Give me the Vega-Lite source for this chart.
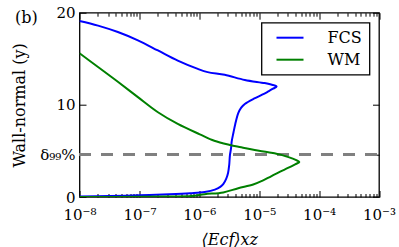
{
  "$schema": "https://vega.github.io/schema/vega-lite/v6.json",
  "width": 299.5,
  "height": 184.3,
  "autosize": {"type": "none"},
  "padding": {"left": 79.5, "top": 12.7, "right": 20, "bottom": 50},
  "title": {"text": "(b)", "anchor": "start", "frame": "group", "dx": -64.5, "dy": 28, "offset": 0, "baseline": "middle", "fontSize": 16, "fontWeight": "normal", "font": "DejaVu Serif", "color": "black"},
  "config": {
    "font": "DejaVu Serif",
    "view": {"stroke": "black", "strokeWidth": 1.3},
    "legend": {"strokeWidth": 1.3},
    "axis": {"domain": false, "grid": false, "tickColor": "black", "tickWidth": 1, "labelFontSize": 15, "labelColor": "black", "labelFont": "DejaVu Serif", "titleFont": "DejaVu Serif", "titleFontWeight": "normal", "titleColor": "black", "titleFontSize": 16, "labelFlush": false, "labelOverlap": false}
  },
  "data": {
    "values": [
      {"series": "FCS", "E": 1e-8, "y": 0.05},
      {"series": "FCS", "E": 3.16e-8, "y": 0.1},
      {"series": "FCS", "E": 1e-7, "y": 0.18},
      {"series": "FCS", "E": 3.16e-7, "y": 0.3},
      {"series": "FCS", "E": 7.08e-7, "y": 0.42},
      {"series": "FCS", "E": 1.23e-6, "y": 0.55},
      {"series": "FCS", "E": 1.82e-6, "y": 0.8},
      {"series": "FCS", "E": 2.24e-6, "y": 1.1},
      {"series": "FCS", "E": 2.51e-6, "y": 1.4},
      {"series": "FCS", "E": 2.82e-6, "y": 2.0},
      {"series": "FCS", "E": 3.02e-6, "y": 2.6},
      {"series": "FCS", "E": 3.16e-6, "y": 3.5},
      {"series": "FCS", "E": 3.24e-6, "y": 4.5},
      {"series": "FCS", "E": 3.39e-6, "y": 5.3},
      {"series": "FCS", "E": 3.47e-6, "y": 6.0},
      {"series": "FCS", "E": 3.72e-6, "y": 7.0},
      {"series": "FCS", "E": 3.98e-6, "y": 7.9},
      {"series": "FCS", "E": 4.47e-6, "y": 9.1},
      {"series": "FCS", "E": 5.01e-6, "y": 9.7},
      {"series": "FCS", "E": 5.75e-6, "y": 10.1},
      {"series": "FCS", "E": 8.32e-6, "y": 10.7},
      {"series": "FCS", "E": 1.12e-5, "y": 11.1},
      {"series": "FCS", "E": 1.41e-5, "y": 11.45},
      {"series": "FCS", "E": 1.7e-5, "y": 11.75},
      {"series": "FCS", "E": 1.95e-5, "y": 12.0},
      {"series": "FCS", "E": 1.58e-5, "y": 12.2},
      {"series": "FCS", "E": 1.23e-5, "y": 12.36},
      {"series": "FCS", "E": 5.75e-6, "y": 12.7},
      {"series": "FCS", "E": 2.66e-6, "y": 13.26},
      {"series": "FCS", "E": 1.38e-6, "y": 13.55},
      {"series": "FCS", "E": 9.44e-7, "y": 13.9},
      {"series": "FCS", "E": 4.37e-7, "y": 14.8},
      {"series": "FCS", "E": 2.04e-7, "y": 15.9},
      {"series": "FCS", "E": 9.44e-8, "y": 17.0},
      {"series": "FCS", "E": 4.37e-8, "y": 17.9},
      {"series": "FCS", "E": 2.04e-8, "y": 18.6},
      {"series": "FCS", "E": 1e-8, "y": 19.1},
      {"series": "WM", "E": 1e-8, "y": 0.01},
      {"series": "WM", "E": 1e-7, "y": 0.02},
      {"series": "WM", "E": 3.16e-7, "y": 0.05},
      {"series": "WM", "E": 7.41e-7, "y": 0.1},
      {"series": "WM", "E": 1.23e-6, "y": 0.3},
      {"series": "WM", "E": 2.51e-6, "y": 0.5},
      {"series": "WM", "E": 4.47e-6, "y": 0.95},
      {"series": "WM", "E": 7.94e-6, "y": 1.35},
      {"series": "WM", "E": 1.12e-5, "y": 1.75},
      {"series": "WM", "E": 1.58e-5, "y": 2.25},
      {"series": "WM", "E": 2.24e-5, "y": 2.75},
      {"series": "WM", "E": 3.02e-5, "y": 3.15},
      {"series": "WM", "E": 3.98e-5, "y": 3.55},
      {"series": "WM", "E": 4.68e-5, "y": 3.8},
      {"series": "WM", "E": 3.98e-5, "y": 4.05},
      {"series": "WM", "E": 3.16e-5, "y": 4.3},
      {"series": "WM", "E": 2.34e-5, "y": 4.57},
      {"series": "WM", "E": 1.41e-5, "y": 4.85},
      {"series": "WM", "E": 8.41e-6, "y": 5.1},
      {"series": "WM", "E": 5.01e-6, "y": 5.4},
      {"series": "WM", "E": 3.24e-6, "y": 5.65},
      {"series": "WM", "E": 1.78e-6, "y": 6.1},
      {"series": "WM", "E": 1.02e-6, "y": 6.8},
      {"series": "WM", "E": 4.37e-7, "y": 7.93},
      {"series": "WM", "E": 2.04e-7, "y": 9.2},
      {"series": "WM", "E": 9.44e-8, "y": 10.84},
      {"series": "WM", "E": 4.37e-8, "y": 12.5},
      {"series": "WM", "E": 2.04e-8, "y": 14.1},
      {"series": "WM", "E": 1e-8, "y": 15.6}
    ]
  },
  "layer": [
    {
      "mark": {"type": "rule", "color": "#808080", "strokeWidth": 2, "strokeDash": [11, 11]},
      "encoding": {
        "x": {"datum": 1e-8, "type": "quantitative", "scale": {"type": "log", "domain": [1e-8, 0.001]},
          "axis": {"orient": "top", "title": null, "labels": false, "values": [1e-8, 2e-8, 3e-8, 4e-8, 5e-8, 6e-8, 7e-8, 8e-8, 9e-8, 1e-7, 2e-7, 3e-7, 4e-7, 5e-7, 6e-7, 7e-7, 8e-7, 9e-7, 1e-6, 2e-6, 3e-6, 4e-6, 5e-6, 6e-6, 7e-6, 8e-6, 9e-6, 1e-5, 2e-5, 3e-5, 4e-5, 5e-5, 6e-5, 7e-5, 8e-5, 9e-5, 0.0001, 0.0002, 0.0003, 0.0004, 0.0005, 0.0006, 0.0007, 0.0008, 0.0009, 0.001],
            "tickSize": {"condition": {"test": "indexof([1e-8,1e-7,1e-6,1e-5,1e-4,1e-3], datum.value) >= 0", "value": -6.5}, "value": -3.5}}},
        "x2": {"datum": 0.001},
        "y": {"datum": 4.6, "type": "quantitative", "scale": {"domain": [0, 20]},
          "axis": {"orient": "right", "title": null, "labels": false, "values": [0, 4.6, 10, 20], "tickSize": -6.5}}
      }
    },
    {
      "mark": {"type": "line", "strokeWidth": 2, "interpolate": "catmull-rom", "clip": true},
      "encoding": {
        "x": {"field": "E", "type": "quantitative", "scale": {"type": "log", "domain": [1e-8, 0.001]},
          "axis": {"orient": "bottom", "title": "⟨Ecf⟩xz", "titleFontStyle": "italic", "titleX": 149.75, "titleY": 42, "titleBaseline": "middle",
            "values": [1e-8, 2e-8, 3e-8, 4e-8, 5e-8, 6e-8, 7e-8, 8e-8, 9e-8, 1e-7, 2e-7, 3e-7, 4e-7, 5e-7, 6e-7, 7e-7, 8e-7, 9e-7, 1e-6, 2e-6, 3e-6, 4e-6, 5e-6, 6e-6, 7e-6, 8e-6, 9e-6, 1e-5, 2e-5, 3e-5, 4e-5, 5e-5, 6e-5, 7e-5, 8e-5, 9e-5, 0.0001, 0.0002, 0.0003, 0.0004, 0.0005, 0.0006, 0.0007, 0.0008, 0.0009, 0.001],
            "labelExpr": "indexof([1e-8,1e-7,1e-6,1e-5,1e-4,1e-3], datum.value) < 0 ? '' : ['10⁻⁸','10⁻⁷','10⁻⁶','10⁻⁵','10⁻⁴','10⁻³'][indexof([1e-8,1e-7,1e-6,1e-5,1e-4,1e-3], datum.value)]",
            "labelPadding": 17,
            "tickSize": {"condition": {"test": "indexof([1e-8,1e-7,1e-6,1e-5,1e-4,1e-3], datum.value) >= 0", "value": -6.5}, "value": -3.5}}},
        "y": {"field": "y", "type": "quantitative", "scale": {"domain": [0, 20]},
          "axis": {"orient": "left", "title": "Wall-normal (y)", "titleX": -60, "titleY": 92.15, "titleBaseline": "middle", "titleAngle": -90, "values": [0, 4.6, 10, 20], "labelExpr": "datum.value == 4.6 ? 'δ₉₉%' : datum.label", "labelPadding": 11, "tickSize": -6.5}},
        "color": {"field": "series", "type": "nominal", "scale": {"domain": ["FCS", "WM"], "range": ["#0000ff", "#008000"]},
          "legend": {"title": null, "orient": "top-right", "offset": 9.5, "strokeColor": "black", "fillColor": "white", "padding": 7, "cornerRadius": 0, "symbolType": "M0,0H6", "symbolSize": 81, "symbolStrokeWidth": 2, "labelOffset": 43, "labelFontSize": 16, "labelFont": "DejaVu Serif", "labelColor": "black", "rowPadding": 6}},
        "order": {"field": "y", "type": "quantitative"}
      }
    }
  ],
  "resolve": {"axis": {"x": "independent", "y": "independent"}}
}
